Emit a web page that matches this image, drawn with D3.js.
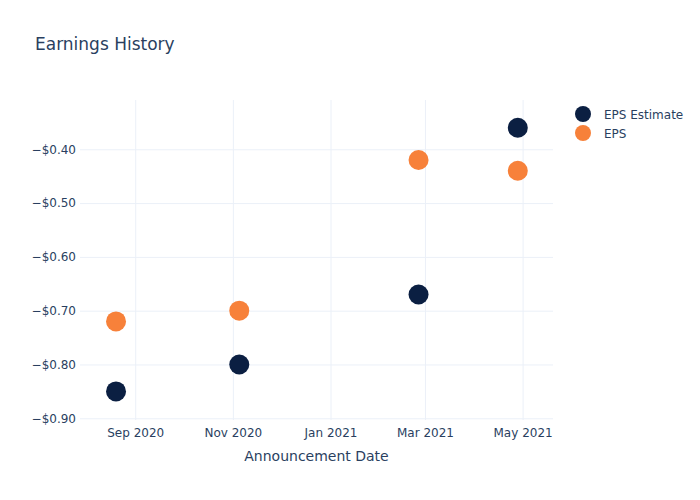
<!DOCTYPE html>
<html>
<head>
<meta charset="utf-8">
<script src="https://cdn.jsdelivr.net/npm/d3@7"></script>
<style>
  body { margin: 0; background: #fff; }
  svg { display: block; font-family: "DejaVu Sans", Verdana, sans-serif; }
</style>
</head>
<body>
<svg id="chart" width="700" height="500"></svg>
<script>
const dates = ["2020-08-20", "2020-11-05", "2021-02-25", "2021-04-28"];
const epsEstimate = [-0.85, -0.80, -0.67, -0.36];
const eps = [-0.72, -0.70, -0.42, -0.44];
const seriesNames = ["EPS Estimate", "EPS"];
const seriesColors = ["#0b1f42", "#f7813a"];
const xTickDates = ["2020-09-01", "2020-11-01", "2021-01-01", "2021-03-01", "2021-05-01"];
const yTicks = [-0.9, -0.8, -0.7, -0.6, -0.5, -0.4];

const parse = d3.utcParse("%Y-%m-%d");
const svg = d3.select("#chart");
const W = 700, H = 500;
const m = { l: 80, r: 147, t: 100, b: 80 };
const textColor = "#2a3f5f";
const gridColor = "#ebf0f8";

const x = d3.scaleUtc()
  .domain([new Date(Date.UTC(2020, 6, 28, 12)), new Date(Date.UTC(2021, 4, 20))])
  .range([m.l, W - m.r]);
const y = d3.scaleLinear()
  .domain([-0.9032, -0.3084])
  .range([H - m.b, m.t]);

// grid
const gx = svg.append("g").attr("transform", `translate(0,${H - m.b})`)
  .call(d3.axisBottom(x).tickValues(xTickDates.map(parse))
    .tickFormat(d3.utcFormat("%b %Y")).tickSize(-(H - m.t - m.b)).tickPadding(8));
gx.select(".domain").remove();
gx.selectAll(".tick line").attr("stroke", gridColor).attr("stroke-width", 1);
gx.selectAll(".tick text").attr("fill", textColor).attr("font-size", 12)
  .attr("font-family", "DejaVu Sans, Verdana, sans-serif");

const gy = svg.append("g").attr("transform", `translate(${m.l},0)`)
  .call(d3.axisLeft(y).tickValues(yTicks)
    .tickFormat(d => "\u2212$" + Math.abs(d).toFixed(2))
    .tickSize(-(W - m.l - m.r)).tickPadding(4));
gy.select(".domain").remove();
gy.selectAll(".tick line").attr("stroke", gridColor).attr("stroke-width", 1);
gy.selectAll(".tick text").attr("fill", textColor).attr("font-size", 12)
  .attr("font-family", "DejaVu Sans, Verdana, sans-serif");

// points
const series = [epsEstimate, eps];
series.forEach((vals, si) => {
  svg.append("g").selectAll("circle")
    .data(vals.map((v, i) => ({ d: parse(dates[i]), v })))
    .join("circle")
    .attr("cx", d => x(d.d))
    .attr("cy", d => y(d.v))
    .attr("r", 10)
    .attr("fill", seriesColors[si]);
});

// title
svg.append("text").attr("x", 35).attr("y", 50)
  .attr("fill", textColor).attr("font-size", 17)
  .text("Earnings History");

// x axis title
svg.append("text").attr("x", m.l + (W - m.l - m.r) / 2).attr("y", 461)
  .attr("text-anchor", "middle").attr("fill", textColor).attr("font-size", 14)
  .text("Announcement Date");

// legend
const lg = svg.append("g");
seriesNames.forEach((n, i) => {
  const yy = 114 + i * 19;
  lg.append("circle").attr("cx", 583).attr("cy", yy).attr("r", 8).attr("fill", seriesColors[i]);
  lg.append("text").attr("x", 604).attr("y", yy + 4.5).attr("fill", textColor)
    .attr("font-size", 12).text(n);
});
</script>
</body>
</html>
